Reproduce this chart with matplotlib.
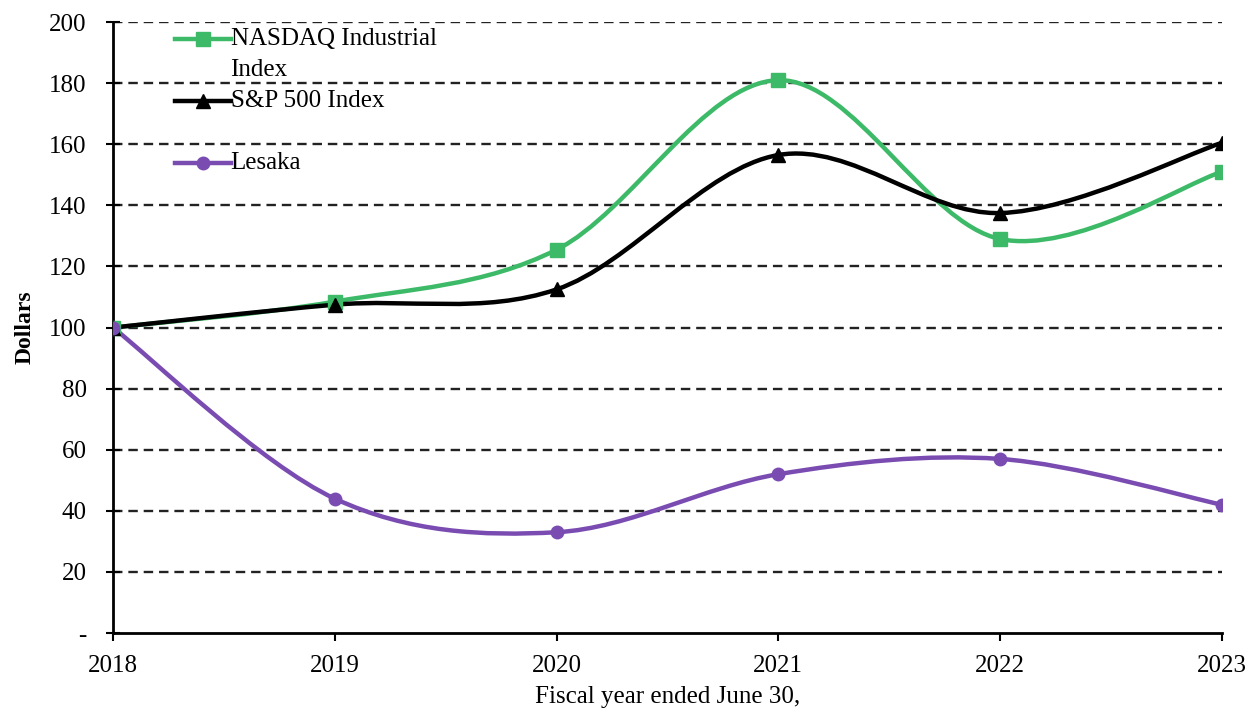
import numpy as np
import matplotlib
matplotlib.use("Agg")
import matplotlib.pyplot as plt
from matplotlib.path import Path
from matplotlib.patches import PathPatch

# values
years = [2018, 2019, 2020, 2021, 2022, 2023]
nasdaq = [100, 108.5, 125.5, 181, 129, 151]
sp500 = [100, 107.5, 112.5, 156.5, 137.5, 160.5]
lesaka = [100, 44, 33, 52, 57, 42]

ytick_vals = [0, 20, 40, 60, 80, 100, 120, 140, 160, 180, 200]
ytick_labels = ["-", "20", "40", "60", "80", "100", "120", "140", "160", "180", "200"]

plt.rcParams["font.family"] = ["Liberation Serif", "DejaVu Serif"]


def smooth_path(xs, ys):
    # Excel-style smoothed line: Catmull-Rom segments as cubic beziers
    pts = np.column_stack([xs, ys]).astype(float)
    n = len(pts)
    verts = [pts[0]]
    codes = [Path.MOVETO]
    for i in range(n - 1):
        p0 = pts[max(i - 1, 0)]
        p1 = pts[i]
        p2 = pts[i + 1]
        p3 = pts[min(i + 2, n - 1)]
        c1 = p1 + (p2 - p0) / 6.0
        c2 = p2 - (p3 - p1) / 6.0
        verts += [c1, c2, p2]
        codes += [Path.CURVE4] * 3
    return Path(verts, codes)


fig = plt.figure(figsize=(12.51, 7.14), dpi=100)
ax = fig.add_axes([0.0903, 0.1134, 0.8865, 0.8556])

series = [
    ("NASDAQ Industrial\nIndex", nasdaq, "#3dba68", "s", 10),
    ("S&P 500 Index", sp500, "#000000", "^", 10),
    ("Lesaka", lesaka, "#7a4cb2", "o", 9),
]

for label, vals, col, mk, ms in series:
    patch = PathPatch(smooth_path(years, vals), facecolor="none", edgecolor=col,
                      lw=3.2, capstyle="round", zorder=3)
    ax.add_patch(patch)
    ax.plot(years, vals, linestyle="none", marker=mk, markersize=ms, color=col, zorder=4)

ax.set_xlim(2018, 2023)
ax.set_ylim(0, 200)
ax.set_xticks(years)
ax.set_xticklabels([str(y) for y in years])
ax.set_yticks(ytick_vals)
ax.set_yticklabels(ytick_labels)

for v in ytick_vals[1:]:
    ax.axhline(v, color="#222222", lw=1.7, ls=(0, (4, 2.5)), zorder=1)

ax.spines["top"].set_visible(False)
ax.spines["right"].set_visible(False)
ax.spines["left"].set_linewidth(2)
ax.spines["bottom"].set_linewidth(2)
ax.tick_params(axis="y", direction="inout", length=10, width=1.5, labelsize=18, pad=14)
ax.tick_params(axis="x", direction="out", length=6, width=1.5, labelsize=18, pad=10)

ax.set_ylabel("Dollars", fontsize=17, fontweight="bold", labelpad=10)
ax.set_xlabel("Fiscal year ended June 30,", fontsize=18, labelpad=6)

# legend drawn in the upper left, as in the reference
leg_y = [0.972, 0.871, 0.769]
line_step = 0.05
for (label, vals, col, mk, ms), yy in zip(series, leg_y):
    ax.plot([0.056, 0.106], [yy, yy], color=col, lw=3.2, transform=ax.transAxes,
            clip_on=False, zorder=5)
    ax.plot([0.081], [yy], marker=mk, markersize=ms, color=col, transform=ax.transAxes,
            clip_on=False, zorder=5)
    for k, part in enumerate(label.split("\n")):
        ax.text(0.106, yy - k * line_step, part, transform=ax.transAxes, fontsize=18,
                va="center", ha="left")

fig.savefig("out.png", dpi=100)
